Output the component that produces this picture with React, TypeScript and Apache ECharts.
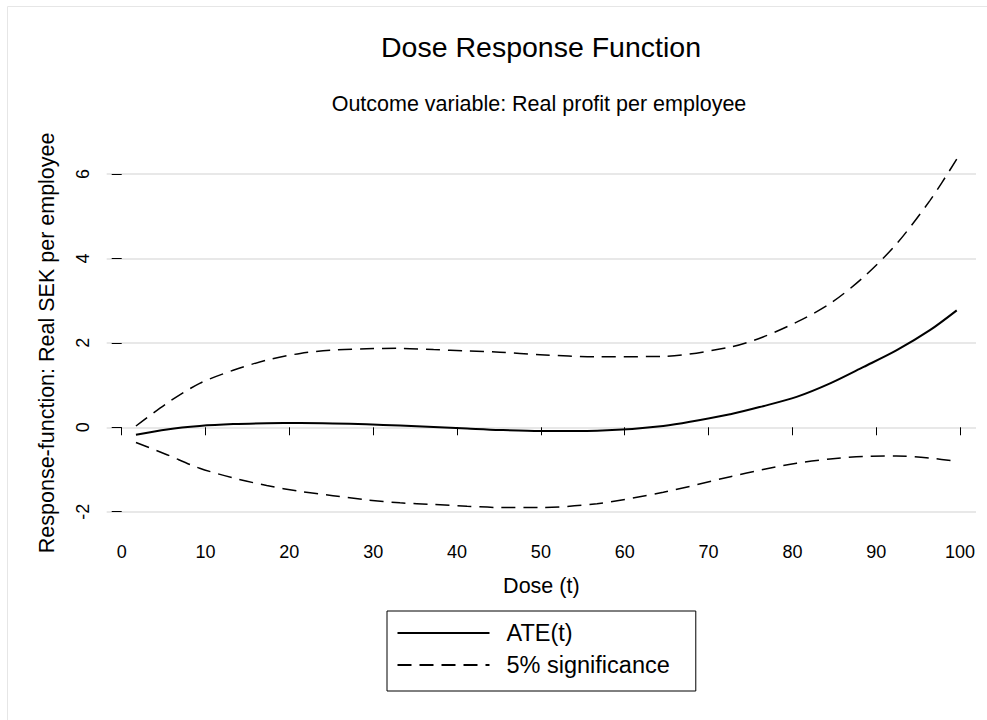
import React, { useEffect, useRef } from "react";
import * as echarts from "echarts";

const doses = [1.7, 5.4, 9.3, 13.3, 17.3, 21.3, 25.2, 29.2, 33.2, 37.2, 41.2, 45.1, 49.9, 56.7, 64.6, 72.6, 76.5, 80.5, 84.5, 88.5, 92.4, 96.4, 99.6];
const ate = [-0.175, -0.05, 0.03, 0.075, 0.095, 0.1, 0.09, 0.07, 0.04, 0.007, -0.03, -0.064, -0.087, -0.08, 0.03, 0.31, 0.5, 0.72, 1.04, 1.43, 1.82, 2.3, 2.77];
const upper = [0.03, 0.57, 1.04, 1.35, 1.59, 1.75, 1.83, 1.86, 1.87, 1.84, 1.81, 1.78, 1.72, 1.67, 1.68, 1.9, 2.14, 2.49, 2.93, 3.56, 4.34, 5.37, 6.35];
const lower = [-0.36, -0.65, -0.97, -1.2, -1.38, -1.52, -1.62, -1.72, -1.79, -1.83, -1.87, -1.9, -1.9, -1.81, -1.54, -1.17, -1.0, -0.85, -0.75, -0.69, -0.68, -0.73, -0.81];
const xTicks = [0, 10, 20, 30, 40, 50, 60, 70, 80, 90, 100];
const seriesNames = ["ATE(t)", "5% significance"];

const FONT = "'Liberation Sans', Arial, Helvetica, sans-serif";

export default function App() {
  const ref = useRef<HTMLDivElement>(null);
  useEffect(() => {
    document.body.style.margin = "0";
    if (!ref.current) return;
    const chart = echarts.init(ref.current, undefined, { renderer: "svg" });
    const pair = (ys: number[]) => doses.map((d, i) => [d, ys[i]]);
    const dashed = { color: "#000", width: 1.5, type: [14, 8] };
    chart.setOption({
      animation: false,
      backgroundColor: "#fff",
      textStyle: { fontFamily: FONT },
      graphic: [
        {
          type: "rect",
          shape: { x: 7.5, y: 6.5, width: 1100, height: 1100 },
          style: { fill: "none", stroke: "#e6e6e6", lineWidth: 1 },
          silent: true,
        },
        {
          type: "text",
          x: 541,
          y: 47,
          style: { text: "Dose Response Function", font: `28.5px ${FONT}`, fill: "#000", textAlign: "center", textVerticalAlign: "middle" },
        },
        {
          type: "text",
          x: 539,
          y: 104,
          style: { text: "Outcome variable: Real profit per employee", font: `21.5px ${FONT}`, fill: "#000", textAlign: "center", textVerticalAlign: "middle" },
        },
      ],
      grid: { left: 106.7, right: 11, top: 174, bottom: 208.3, containLabel: false, outerBoundsMode: "none" },
      legend: {
        data: seriesNames,
        orient: "vertical",
        left: 387,
        top: 611,
        padding: [10, 26, 14, 9.5],
        itemWidth: 92,
        itemHeight: 24,
        itemGap: 8,
        borderColor: "#000",
        borderWidth: 1,
        backgroundColor: "#fff",
        itemStyle: { opacity: 0 },
        textStyle: { fontSize: 23.5, color: "#000", fontFamily: FONT, lineHeight: 24, padding: [0, 0, 0, 12] },
      },
      xAxis: {
        type: "value",
        min: -1.79,
        max: 101.9,
        offset: 16,
        name: "Dose (t)",
        nameLocation: "middle",
        nameGap: 47.5,
        nameTextStyle: { fontSize: 21.5, color: "#000", fontFamily: FONT },
        axisLine: { show: false },
        axisTick: { show: true, length: 8, customValues: xTicks, lineStyle: { color: "#000", width: 1 } },
        axisLabel: { customValues: xTicks, margin: 15.5, fontSize: 18, color: "#000", fontFamily: FONT },
        splitLine: { show: false },
      },
      yAxis: {
        type: "value",
        min: -2,
        max: 6,
        interval: 2,
        name: "Response-function: Real SEK per employee",
        nameLocation: "middle",
        nameGap: 49,
        nameTextStyle: { fontSize: 21.5, color: "#000", fontFamily: FONT },
        axisLine: { show: false },
        axisTick: { show: true, length: 10, lineStyle: { color: "#000", width: 1 } },
        axisLabel: { rotate: 90, margin: 14.5, fontSize: 18, color: "#000", fontFamily: FONT },
        splitLine: { show: true, lineStyle: { color: "#e8e8e8", width: 2 } },
      },
      series: [
        {
          name: seriesNames[0],
          type: "line",
          data: pair(ate),
          smooth: 0.3,
          symbol: "none",
          clip: false,
          lineStyle: { color: "#000", width: 2 },
          itemStyle: { color: "#000" },
        },
        {
          name: seriesNames[1],
          type: "line",
          data: pair(upper),
          smooth: 0.3,
          symbol: "none",
          clip: false,
          lineStyle: dashed,
          itemStyle: { color: "#000" },
        },
        {
          name: seriesNames[1],
          type: "line",
          data: pair(lower),
          smooth: 0.3,
          symbol: "none",
          clip: false,
          lineStyle: dashed,
          itemStyle: { color: "#000" },
        },
      ],
    });
    return () => chart.dispose();
  }, []);
  return <div ref={ref} style={{ width: 987, height: 720 }} />;
}
